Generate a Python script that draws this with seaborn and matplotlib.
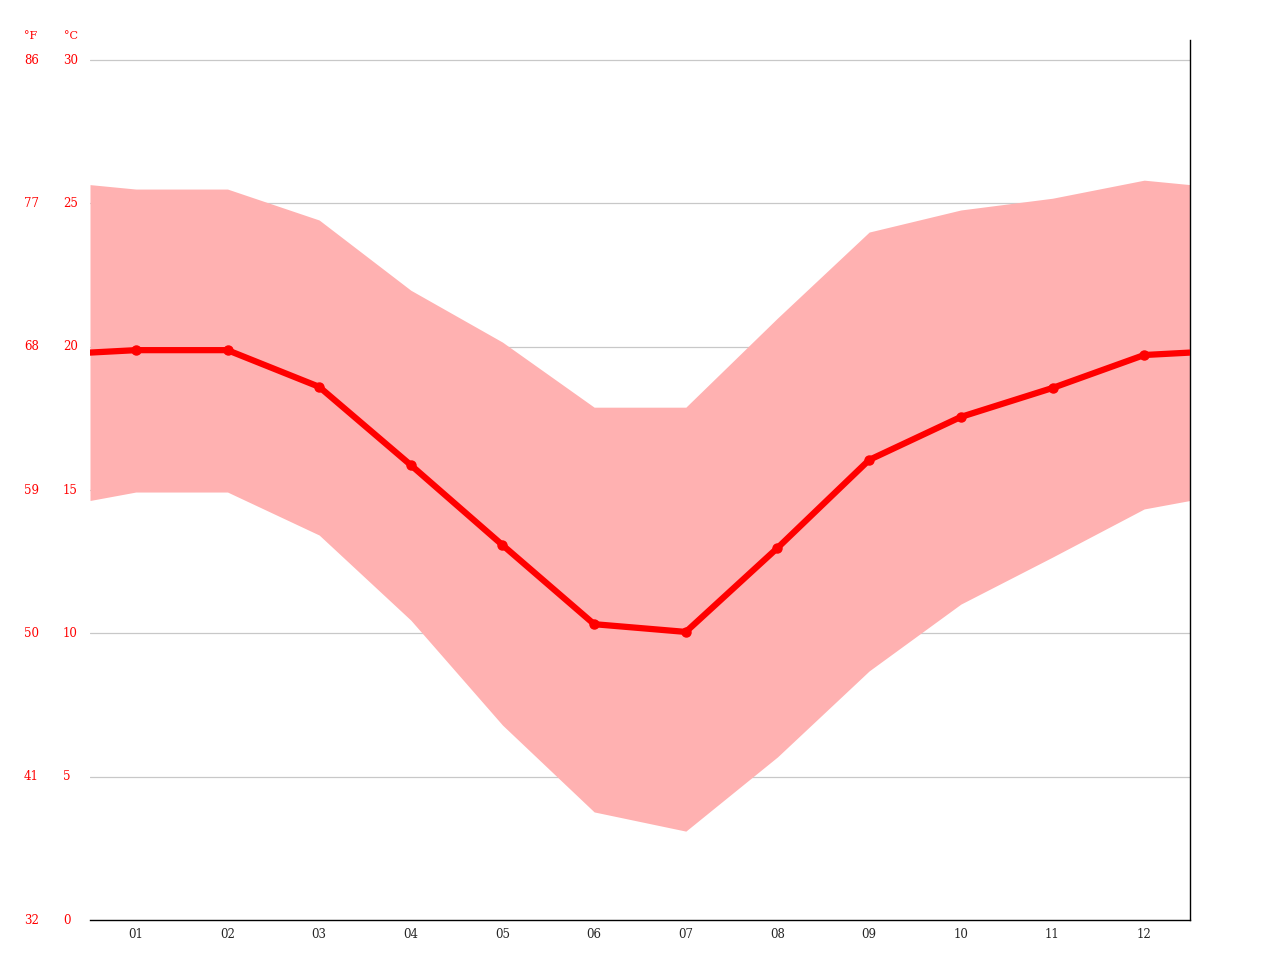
import matplotlib
matplotlib.use("Agg")
import matplotlib.pyplot as plt
import matplotlib.transforms as mtransforms
import seaborn as sns
import numpy as np
import pandas as pd

# Monthly climate data (°C)
months = ["01", "02", "03", "04", "05", "06", "07", "08", "09", "10", "11", "12"]
t_mean = [19.88, 19.88, 18.6, 15.87, 13.08, 10.32, 10.05, 12.98, 16.05, 17.55, 18.56, 19.71]
t_max = [25.5, 25.5, 24.42, 21.97, 20.16, 17.89, 17.89, 21.0, 24.0, 24.77, 25.18, 25.81]
t_min = [14.93, 14.93, 13.43, 10.46, 6.8, 3.77, 3.1, 5.69, 8.69, 11.02, 12.66, 14.34]
c_ticks = [0, 5, 10, 15, 20, 25, 30]
f_ticks = [32, 41, 50, 59, 68, 77, 86]

sns.set_style("white")
plt.rcParams['font.family'] = ['DejaVu Serif']

x = np.arange(1, 13)
# wrap to the half-month edges
def wrap(v):
    e = (v[0] + v[-1]) / 2
    return np.r_[e, v, e]
xw = np.r_[0.5, x, 12.5]

df = pd.DataFrame({"month": xw, "mean": wrap(t_mean)})

fig = plt.figure(figsize=(12.8, 9.6), dpi=100)
ax = fig.add_axes([90/1280, 40/960, 1100/1280, 880/960])

ax.fill_between(xw, wrap(t_min), wrap(t_max), color="#ffb1b1", lw=0, zorder=2)
sns.lineplot(data=df, x="month", y="mean", color="red", lw=4.5, ax=ax, zorder=3)
ax.plot(x, t_mean, "o", color="red", ms=6.5, zorder=4)

ax.set_xlim(0.5, 12.5)
ax.set_ylim(0, 30.7)
for c in c_ticks[1:]:
    ax.axhline(c, color="#c8c8c8", lw=0.9, zorder=1)

ax.set_xticks(x)
ax.set_xticklabels(months, fontsize=8.5)
ax.tick_params(axis="x", length=0, pad=6)
ax.set_xticks(np.arange(0.5, 13, 1), minor=True)
ax.tick_params(axis="x", which="minor", length=4, color="black", direction="out")
ax.set_yticks([])
ax.set_xlabel("")
ax.set_ylabel("")

for s in ["left", "top"]:
    ax.spines[s].set_visible(False)
for s in ["right", "bottom"]:
    ax.spines[s].set_visible(True)
    ax.spines[s].set_color("black")
    ax.spines[s].set_linewidth(1)

tr = mtransforms.blended_transform_factory(fig.transFigure, ax.transData)
for c, f in zip(c_ticks, f_ticks):
    ax.text(63/1280, c, str(c), transform=tr, color="red", fontsize=8.5, va="center", ha="left")
    ax.text(24/1280, c, str(f), transform=tr, color="red", fontsize=8.5, va="center", ha="left")
fig.text(64/1280, 1 - 36/960, "°C", color="red", fontsize=8, va="center")
fig.text(24/1280, 1 - 36/960, "°F", color="red", fontsize=8, va="center")

fig.savefig("out.png", dpi=100)
